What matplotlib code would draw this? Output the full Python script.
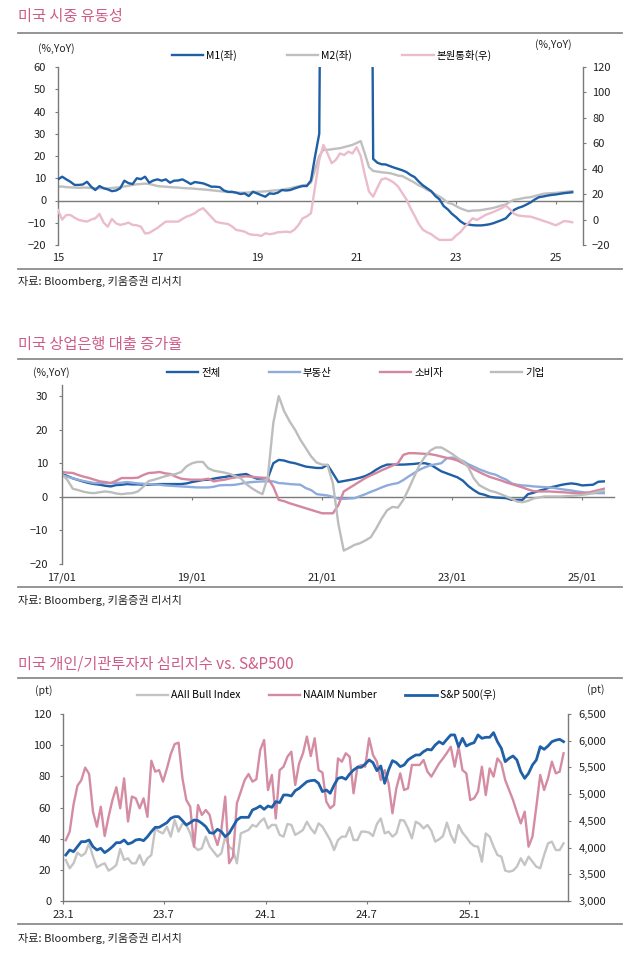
import numpy as np
import pandas as pd
import matplotlib
matplotlib.use('Agg')
import matplotlib.pyplot as plt
from matplotlib.lines import Line2D
from matplotlib.ticker import FuncFormatter

plt.rcParams['font.family'] = ['Noto Sans CJK KR', 'DejaVu Sans']
plt.rcParams['axes.unicode_minus'] = True

# ---------------- data: chart 1 (monthly, from 2015-01) ----------------
m1_yoy = [9.5, 10.7, 9.5, 8.4, 7.0, 7.0, 7.2, 8.4, 6.2, 4.7, 6.5, 5.5,
          5.0, 4.2, 4.5, 5.5, 8.9, 7.8, 7.4, 10.0, 9.6, 10.7, 8.0, 9.0,
          9.5, 8.9, 9.5, 8.0, 8.9, 9.0, 9.5, 8.5, 7.4, 8.3, 8.0, 7.7,
          7.0, 6.2, 6.2, 6.0, 4.5, 3.9, 3.9, 3.5, 2.9, 3.2, 2.0, 3.9,
          3.2, 2.4, 1.7, 3.2, 3.0, 3.5, 4.7, 4.5, 4.7, 5.4, 6.0, 6.5,
          6.5, 9.0, 20.0, 30.0, 300, 330, 340, 345, 350, 355, 360, 360,
          360, 360, 350, 330, 18.7, 17.0, 16.3, 16.2, 15.5, 14.8, 14.2, 13.6,
          12.8, 11.5, 10.5, 8.5, 6.8, 5.5, 4.2, 2.0, 0.5, -2.5, -4.0, -6.0,
          -7.5, -9.3, -10.5, -10.8, -11.1, -11.2, -11.2, -11.0, -10.7, -10.2, -9.5, -8.8,
          -8.0, -6.0, -4.2, -3.3, -2.7, -1.8, -0.8, 0.5, 1.5, 1.8, 2.2, 2.5,
          2.7, 3.0, 3.3, 3.5, 3.7]
m2_yoy = [6.2, 6.3, 6.0, 5.9, 5.8, 5.7, 5.8, 5.8, 5.6, 5.5, 5.5, 5.6,
          5.4, 5.6, 5.8, 6.0, 6.3, 6.6, 7.0, 7.3, 7.4, 7.6, 7.4, 7.0,
          6.5, 6.3, 6.2, 6.0, 5.9, 5.8, 5.6, 5.5, 5.4, 5.3, 5.1, 5.0,
          4.8, 4.6, 4.4, 4.2, 4.0, 3.8, 3.7, 3.6, 3.5, 3.5, 3.6, 3.9,
          3.9, 4.0, 4.1, 4.3, 4.5, 4.6, 4.8, 5.2, 5.5, 6.0, 6.4, 6.8,
          7.0, 8.0, 14.0, 20.0, 22.8, 22.8, 23.0, 23.3, 23.5, 24.0, 24.5, 25.0,
          25.8, 26.7, 21.0, 15.0, 13.3, 13.0, 12.7, 12.5, 12.3, 11.8, 11.2, 11.0,
          10.0, 9.0, 8.0, 6.8, 6.0, 4.8, 4.0, 2.8, 1.8, 0.5, -1.0, -1.5,
          -2.5, -3.5, -4.2, -4.8, -4.5, -4.5, -4.3, -4.0, -3.7, -3.3, -2.8, -2.2,
          -1.8, -0.5, 0.3, 0.6, 1.0, 1.3, 1.5, 2.0, 2.5, 3.0, 3.2, 3.3,
          3.4, 3.6, 3.8, 4.0, 4.2]
base_yoy = [7.5, 0.0, 3.6, 3.6, 1.5, -0.3, -1.0, -1.6, 0.0, 1.0, 4.4, -2.4,
            -5.6, 0.5, -3.0, -4.2, -3.5, -2.4, -4.2, -4.5, -5.6, -11.0, -10.5, -8.5,
            -6.5, -4.0, -1.6, -1.6, -1.6, -1.6, 0.5, 2.3, 3.5, 5.0, 7.5, 8.9,
            5.5, 2.0, -1.6, -2.5, -3.0, -3.5, -5.5, -8.2, -8.7, -9.5, -11.3, -12.0,
            -12.1, -12.9, -10.8, -11.5, -11.0, -10.0, -9.8, -9.5, -10.0, -8.0, -4.2, 1.0,
            2.5, 5.0, 26.0, 47.0, 58.7, 52.0, 44.3, 47.0, 52.0, 50.8, 53.4, 52.0,
            56.9, 50.0, 35.0, 22.0, 18.0, 25.0, 31.5, 32.5, 31.0, 29.0, 26.0, 21.0,
            16.0, 9.0, 3.0, -3.5, -8.0, -10.0, -11.5, -14.0, -16.0, -16.0, -16.0, -15.8,
            -12.5, -10.0, -6.0, -2.5, 1.0, -0.3, 1.5, 3.5, 4.8, 6.0, 7.5, 9.0,
            11.0, 8.0, 4.5, 3.2, 2.8, 2.5, 2.3, 1.2, 0.2, -1.0, -2.0, -3.2,
            -4.5, -3.0, -1.2, -1.5, -2.1]
c1_start_year = 2015
c1_xtick_years = [2015, 2017, 2019, 2021, 2023, 2025]
c1_xtick_labels = ['15', '17', '19', '21', '23', '25']

# ---------------- data: chart 2 (monthly, from 2017-01) ----------------
loan_total = [6.8, 6.2, 5.5, 5.0, 4.5, 4.1, 3.8, 3.6, 3.3, 3.1, 3.5, 3.6,
              3.8, 3.7, 3.7, 3.6, 3.6, 3.7, 3.8, 3.8, 3.8, 3.8, 3.8, 4.0,
              4.4, 4.7, 5.0, 5.1, 5.4, 5.7, 5.9, 6.2, 6.4, 6.6, 6.8, 6.0,
              5.4, 5.5, 5.6, 10.0, 11.0, 10.8, 10.3, 10.0, 9.5, 9.0, 8.8, 8.6,
              8.6, 9.5, 7.0, 4.4, 4.7, 5.0, 5.3, 5.7, 6.2, 7.0, 8.1, 9.0,
              9.6, 9.6, 9.6, 9.6, 9.7, 9.8, 10.0, 10.0, 9.6, 8.6, 7.6, 7.0,
              6.4, 5.8, 4.8, 3.2, 2.0, 1.0, 0.6, 0.0, -0.2, -0.3, -0.4, -0.9,
              -0.9, -0.9, 0.8, 1.2, 1.8, 2.2, 2.8, 3.1, 3.5, 3.8, 4.0, 3.8,
              3.4, 3.5, 3.6, 4.5, 4.6]
loan_realestate = [6.4, 6.0, 5.5, 5.1, 4.7, 4.4, 4.1, 4.1, 4.1, 4.1, 4.1, 4.2,
                   4.4, 4.2, 4.0, 3.9, 3.8, 3.7, 3.6, 3.4, 3.3, 3.2, 3.1, 3.0,
                   2.9, 2.8, 2.8, 2.8, 3.0, 3.4, 3.5, 3.5, 3.6, 3.9, 4.2, 4.4,
                   4.5, 4.6, 4.6, 4.6, 4.1, 4.0, 3.8, 3.7, 3.6, 2.6, 2.0, 0.8,
                   0.6, 0.4, 0.0, -0.6, -0.6, -0.5, -0.4, 0.2, 0.8, 1.5, 2.1, 2.8,
                   3.4, 3.8, 4.1, 5.0, 6.1, 7.1, 8.1, 8.8, 9.4, 9.7, 10.0, 11.5,
                   11.7, 11.2, 10.7, 9.7, 9.0, 8.2, 7.6, 7.0, 6.6, 5.8, 5.1, 4.0,
                   3.6, 3.4, 3.3, 3.1, 3.0, 2.9, 2.8, 2.6, 2.3, 2.1, 1.9, 1.6,
                   1.4, 1.2, 1.1, 1.1, 1.1]
loan_consumer = [7.4, 7.2, 7.1, 6.5, 6.0, 5.6, 5.1, 4.6, 4.4, 4.1, 4.8, 5.6,
                 5.6, 5.6, 5.7, 6.5, 7.1, 7.2, 7.4, 7.0, 6.8, 6.0, 5.4, 5.2,
                 5.1, 5.1, 5.1, 5.4, 4.6, 4.9, 5.1, 5.5, 5.8, 6.0, 6.1, 6.0,
                 5.8, 5.7, 5.6, 3.0, -0.9, -1.3, -1.9, -2.4, -2.9, -3.4, -3.9, -4.4,
                 -4.9, -4.9, -4.9, -2.5, 1.6, 2.6, 3.6, 4.6, 5.6, 6.4, 7.1, 7.9,
                 8.6, 9.3, 10.0, 12.5, 13.0, 13.0, 12.9, 12.8, 12.7, 12.4, 12.0, 11.6,
                 11.3, 10.8, 10.0, 9.2, 8.2, 7.4, 6.6, 5.9, 5.4, 4.9, 4.3, 3.8,
                 3.3, 2.8, 2.2, 1.7, 1.6, 1.6, 1.6, 1.5, 1.4, 1.3, 1.2, 1.1,
                 1.1, 1.2, 1.6, 2.0, 2.4]
loan_corporate = [6.8, 5.0, 2.4, 2.0, 1.5, 1.2, 1.1, 1.4, 1.6, 1.4, 1.0, 0.8,
                  1.0, 1.1, 1.6, 3.0, 4.7, 5.1, 5.6, 6.1, 6.5, 6.8, 7.4, 9.1,
                  10.0, 10.4, 10.4, 8.5, 7.8, 7.5, 7.2, 6.8, 6.2, 5.5, 3.8, 2.6,
                  1.6, 0.8, 6.0, 22.0, 30.0, 25.5, 22.5, 20.0, 17.0, 14.5, 12.0, 10.2,
                  9.6, 9.5, 4.0, -8.0, -16.0, -15.2, -14.3, -13.8, -13.0, -12.0, -9.4, -6.5,
                  -4.0, -3.0, -3.2, -0.9, 2.4, 6.0, 9.5, 12.0, 13.8, 14.7, 14.7, 13.8,
                  12.8, 11.6, 10.5, 8.8, 5.5, 3.5, 2.6, 1.8, 1.4, 0.8, 0.1, -0.6,
                  -1.4, -1.6, -1.2, -0.5, -0.2, 0.1, 0.1, 0.1, 0.1, 0.2, 0.3, 0.4,
                  0.6, 0.8, 1.1, 1.5, 1.8]
c2_start_year = 2017
c2_xtick_years = [2017, 2019, 2021, 2023, 2025]
c2_xtick_labels = ['17/01', '19/01', '21/01', '23/01', '25/01']

# ---------------- data: chart 3 (weekly, from 2023-01-06) ----------------
aaii_bull = [26.3, 21, 24.2, 31, 28.9, 30.6, 37, 28.5, 21.6, 23.1,
             24.2, 19.5, 21, 23.1, 33.4, 26.3, 27.4, 24.2, 24.2, 29.5,
             23.1, 27.4, 29.5, 46.6, 44.5, 43.4, 47.7, 41.3, 52, 44.5,
             49.8, 48.8, 43.4, 34.9, 32.7, 33.8, 41.3, 34.9, 31.7, 28.5,
             30.6, 41.3, 34.9, 32.7, 24.2, 43.4, 44.5, 45.6, 48.8, 47.7,
             50.9, 53, 46.6, 48.8, 48.8, 42.4, 41.3, 49.4, 48.8, 42.4,
             43.9, 45.6, 50.9, 46.6, 43.4,
             49.8, 47.7, 43.4, 39.1, 32.7, 39.1, 41.3, 41.3, 47.3, 39.1,
             39.1, 44.5, 44.5, 43.9, 41.7, 49.4, 53, 43.4, 44.5, 41.3,
             43.4, 52, 51.6, 46.6, 40.2, 50.9, 49.4, 46.6, 48.8, 45.1,
             38.1, 39.6, 41.7, 50.3, 42.4, 37.4, 48.8, 43.9, 40.9, 37.4,
             35.3, 34.9, 25.2, 43.4, 41.3, 34.9, 29.5, 28.5, 19.5, 18.8,
             19.5, 22, 27.4, 23.1, 28.5, 25.2, 22, 21, 29.5, 37,
             38.1, 32.7, 32.7, 37]
naaim = [39, 44.5, 62, 74, 77.6, 85.6, 81.5, 57.3, 47.7, 60.5,
         41.7, 54, 64.8, 73, 59.5, 78.7, 51, 67, 65.9, 59.5,
         65.9, 54, 90, 83, 84, 76.6, 85, 94.3, 100.7, 101.6,
         78.7, 64.8, 60.5, 34.9, 61.6, 55.2, 58.4, 55.2, 43.4, 35.9,
         45.6, 67, 24.2, 28.5, 62.7, 70.2, 77.6, 81.5, 76.6, 78.1,
         96.9, 103.3, 71.2, 80.9, 53, 84, 86.2, 92.6, 95.8, 74.4,
         88.3, 94.8, 105.5, 93, 104.4,
         84, 82.4, 63.7, 59.5, 61.6, 91.5, 89.4, 94.8, 92.6, 69.1,
         86.2, 87.3, 86.2, 104.4, 93.7, 89.4, 77.6, 84, 75.5, 56.3,
         72.3, 81.9, 71.2, 72.3, 87.3, 87.3, 87.3, 90.5, 83, 79.8,
         84, 88.3, 91.5, 95, 99, 86.2, 99, 84, 81.9, 64.8,
         65.9, 70.2, 86.2, 68, 85.1, 79.8, 91.5, 88.3, 77.6, 71.2,
         64.8, 57, 49.8, 57.3, 34.9, 41.3, 60.5, 80.9, 71.2, 78.7,
         89.4, 81.9, 83, 94.8]
sp500 = [3861, 3955, 3924, 4017, 4111, 4111, 4142, 4017, 3955, 3986,
         3905, 3955, 4017, 4092, 4092, 4142, 4067, 4092, 4142, 4154,
         4129, 4204, 4298, 4379, 4379, 4423, 4466, 4548, 4579, 4579,
         4504, 4423, 4466, 4516, 4504, 4454, 4392, 4279, 4267, 4342,
         4298, 4204, 4267, 4392, 4516, 4566, 4566, 4566, 4704, 4735,
         4778, 4716, 4778, 4753, 4860, 4841, 4984, 4984, 4966, 5065,
         5109, 5172, 5234, 5253, 5260,
         5203, 5047, 5078, 5016, 5172, 5296, 5315, 5278, 5377, 5452,
         5502, 5502, 5565, 5640, 5590, 5440, 5527, 5203, 5452, 5627,
         5590, 5515, 5546, 5640, 5690, 5733, 5733, 5796, 5839, 5827,
         5920, 5982, 5939, 6026, 6108, 6108, 5889, 6045, 5901, 5939,
         5964, 6108, 6045, 6064, 6064, 6151, 5982, 5858, 5608, 5671,
         5714, 5640, 5421, 5296, 5390, 5546, 5640, 5889, 5839, 5901,
         5982, 6010, 6026, 5982]
c3_start_date = '2023-01-06'
c3_xtick_dates = ['2023-01-01', '2023-07-01', '2024-01-01', '2024-07-01', '2025-01-01']
c3_xtick_labels = ['23.1', '23.7', '24.1', '24.7', '25.1']

# ---------------- styling ----------------
W, H = 640, 959
fig = plt.figure(figsize=(W / 100, H / 100), dpi=100)

TITLE_C = '#cc5c88'
SEP_C = '#8c8c8c'
SPINE_C = '#7a7a7a'
TXT_C = '#222222'
FS_TICK = 8
FS_LEG = 7.5
LW = 1.7


def rect(l, t, r, b):
    return [l / W, 1 - b / H, (r - l) / W, (b - t) / H]


def fy(py):
    return 1 - py / H


def header(title, y_title, y_line):
    fig.text(18 / W, fy(y_title), title, color=TITLE_C, fontsize=11, va='center', ha='left')
    fig.add_artist(Line2D([18 / W, 622 / W], [fy(y_line)] * 2, color=SEP_C, lw=1.3))


def footer(y_line, y_text):
    fig.add_artist(Line2D([18 / W, 622 / W], [fy(y_line)] * 2, color=SEP_C, lw=1.3))
    fig.text(18 / W, fy(y_text), '자료: Bloomberg, 키움증권 리서치', color=TXT_C,
             fontsize=8, va='center', ha='left')


def style_axis(ax, left=True, right=False, bottom=False):
    for s in ['top', 'left', 'right', 'bottom']:
        ax.spines[s].set_visible(False)
    for s, v in [('left', left), ('right', right), ('bottom', bottom)]:
        if v:
            ax.spines[s].set_visible(True)
            ax.spines[s].set_color(SPINE_C)
            ax.spines[s].set_linewidth(1.0)
    ax.tick_params(colors=SPINE_C, labelcolor=TXT_C, labelsize=FS_TICK, width=0.8, length=2.5)
    ax.patch.set_visible(False)


# ================= chart 1 =================
header('미국 시중 유동성', 17, 33)
footer(269, 281)

t1 = c1_start_year + np.arange(len(m1_yoy)) / 12.0
ax1 = fig.add_axes(rect(58, 67, 583, 245))
l_m2, = ax1.plot(t1, m2_yoy, color='#bfbfbf', lw=LW, zorder=2, label='M2(좌)')
l_m1, = ax1.plot(t1, m1_yoy, color='#1f5fa5', lw=LW, zorder=3, label='M1(좌)')
ax1.set_ylim(-20, 60)
ax1.set_xlim(2015, 2025.55)
ax1.set_yticks(np.arange(-20, 61, 10))
style_axis(ax1, left=True)
ax1.tick_params(axis='y', pad=6)
ax1.set_xticks(c1_xtick_years)
ax1.set_xticklabels(c1_xtick_labels)
ax1.tick_params(axis='x', length=0, pad=6)
sec1 = ax1.secondary_xaxis(20 / 80)
sec1.set_xticks(c1_xtick_years)
sec1.tick_params(axis='x', length=2.5, color=SPINE_C, labelbottom=False)
sec1.spines['bottom'].set_color(SPINE_C)
sec1.spines['bottom'].set_linewidth(1.0)

ax1r = ax1.twinx()
l_base, = ax1r.plot(t1, base_yoy, color='#ebbccb', lw=LW, label='본원통화(우)')
ax1r.set_ylim(-20, 120)
ax1r.set_yticks(np.arange(-20, 121, 20))
style_axis(ax1r, left=False, right=True)
ax1r.tick_params(axis='y', pad=4)

fig.text(38 / W, fy(49), '(%,YoY)', fontsize=FS_LEG, color=TXT_C, va='center', ha='left')
fig.text(572 / W, fy(45), '(%,YoY)', fontsize=FS_LEG, color=TXT_C, va='center', ha='right')
ax1.legend([l_m1, l_m2, l_base], ['M1(좌)', 'M2(좌)', '본원통화(우)'], ncol=3,
           loc='center left', bbox_to_anchor=(172 / W, fy(55)), bbox_transform=fig.transFigure,
           frameon=False, fontsize=FS_LEG, handlelength=3.0, handletextpad=0.3,
           columnspacing=4.8, borderpad=0, borderaxespad=0)

# ================= chart 2 =================
header('미국 상업은행 대출 증가율', 345, 359)
footer(587, 600)

t2 = c2_start_year + np.arange(len(loan_total)) / 12.0
ax2 = fig.add_axes(rect(62, 385, 614, 564))
h_tot, = ax2.plot(t2, loan_total, color='#1f5fa5', lw=LW, label='전체')
h_re, = ax2.plot(t2, loan_realestate, color='#8eabdc', lw=LW, label='부동산')
h_con, = ax2.plot(t2, loan_consumer, color='#d4879f', lw=LW, label='소비자')
h_cor, = ax2.plot(t2, loan_corporate, color='#bdbdbd', lw=LW, label='기업')
ax2.set_ylim(-20, 33.3)
ax2.set_xlim(2017, 2025.49)
ax2.set_yticks(np.arange(-20, 31, 10))
style_axis(ax2, left=True)
ax2.tick_params(axis='y', pad=7.5)
ax2.set_xticks(c2_xtick_years)
ax2.set_xticklabels(c2_xtick_labels)
ax2.tick_params(axis='x', length=0, pad=6)
sec2 = ax2.secondary_xaxis(20 / 53.3)
sec2.set_xticks(c2_xtick_years)
sec2.tick_params(axis='x', length=2.5, color=SPINE_C, labelbottom=False)
sec2.spines['bottom'].set_color(SPINE_C)
sec2.spines['bottom'].set_linewidth(1.0)

fig.text(33 / W, fy(373), '(%,YoY)', fontsize=FS_LEG, color=TXT_C, va='center', ha='left')
ax2.legend([h_tot, h_re, h_con, h_cor], ['전체', '부동산', '소비자', '기업'], ncol=4,
           loc='center left', bbox_to_anchor=(167 / W, fy(373)), bbox_transform=fig.transFigure,
           frameon=False, fontsize=FS_LEG, handlelength=3.0, handletextpad=0.3,
           columnspacing=4.6, borderpad=0, borderaxespad=0)

# ================= chart 3 =================
header('미국 개인/기관투자자 심리지수 vs. S&P500', 664, 678)
footer(924, 938)

t3 = pd.date_range(c3_start_date, periods=len(aaii_bull), freq='7D')
ax3 = fig.add_axes(rect(63, 714, 568, 901))
h_aaii, = ax3.plot(t3, aaii_bull, color='#c4c4c4', lw=LW, label='AAII Bull Index')
h_naaim, = ax3.plot(t3, naaim, color='#d48ca3', lw=LW, label='NAAIM Number')
ax3.set_ylim(0, 120)
ax3.set_yticks(np.arange(0, 121, 20))
ax3.set_xlim(pd.Timestamp('2023-01-01'), pd.Timestamp('2025-06-28'))
style_axis(ax3, left=True, bottom=True)
ax3.tick_params(axis='y', pad=6)
ax3.set_xticks(pd.to_datetime(c3_xtick_dates))
ax3.set_xticklabels(c3_xtick_labels)
ax3.tick_params(axis='x', pad=4)

ax3r = ax3.twinx()
h_sp, = ax3r.plot(t3[:len(sp500)], sp500, color='#1f60a8', lw=2.0, label='S&P 500(우)')
ax3r.set_ylim(3000, 6500)
ax3r.set_yticks(np.arange(3000, 6501, 500))
ax3r.yaxis.set_major_formatter(FuncFormatter(lambda v, p: f'{int(v):,}'))
style_axis(ax3r, left=False, right=True)
ax3r.tick_params(axis='y', pad=5)

fig.text(35 / W, fy(691), '(pt)', fontsize=FS_LEG, color=TXT_C, va='center', ha='left')
fig.text(605 / W, fy(690), '(pt)', fontsize=FS_LEG, color=TXT_C, va='center', ha='right')
ax3.legend([h_aaii, h_naaim, h_sp], ['AAII Bull Index', 'NAAIM Number', 'S&P 500(우)'], ncol=3,
           loc='center left', bbox_to_anchor=(137 / W, fy(695)), bbox_transform=fig.transFigure,
           frameon=False, fontsize=FS_LEG, handlelength=3.0, handletextpad=0.3,
           columnspacing=2.7, borderpad=0, borderaxespad=0)

fig.savefig('out.png', dpi=100)
